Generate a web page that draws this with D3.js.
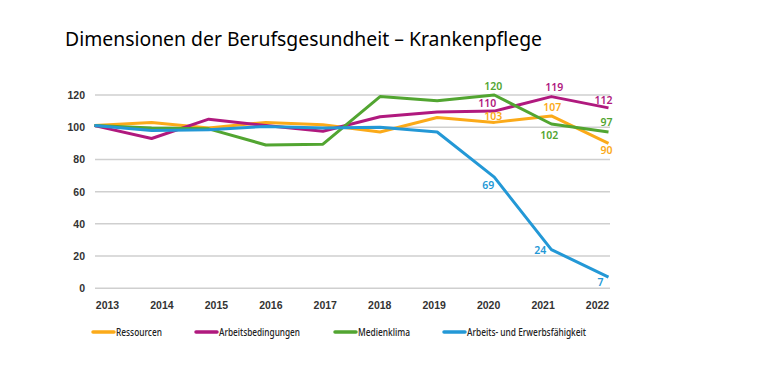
<!DOCTYPE html>
<html>
<head>
<meta charset="utf-8">
<script src="https://cdn.jsdelivr.net/npm/d3@7"></script>
<style>
  body { margin: 0; background: #fff; }
  svg { display: block; font-family: "Noto Sans", sans-serif; }
  .chart-title { font-size: 19.5px; font-weight: 400; fill: #000; }
  .axis text { font-size: 10.5px; font-weight: 600; fill: #333; }
  .legend-label { font-size: 10.5px; font-weight: 500; fill: #222; }
  .value-label { font-size: 10.5px; font-weight: 600; }
</style>
</head>
<body>
<div id="chart"></div>
<script>
// years on the x axis
const years = [2013, 2014, 2015, 2016, 2017, 2018, 2019, 2020, 2021, 2022];
const yTicks = [0, 20, 40, 60, 80, 100, 120];

// index values per dimension (2013 = ~100)
const ressourcen        = [101, 103, 99.5, 103, 101.5, 97, 106, 103, 107, 90];
const arbeitsbedingungen = [101, 93, 105, 101, 97.5, 106.5, 109.5, 110, 119, 112];
const medienklima       = [101, 99.5, 99, 89, 89.5, 119, 116.5, 120, 102, 97];
const erwerbsfaehigkeit = [101, 98, 98.5, 100.5, 99.5, 100, 97, 69, 24, 7];

const seriesNames = ['Ressourcen', 'Arbeitsbedingungen', 'Medienklima', 'Arbeits- und Erwerbsfähigkeit'];
const seriesColors = ['#fbaa19', '#b0197e', '#52a531', '#2398d6'];

// which points carry a value label
const labelSeries = [2, 1, 0, 3, 1, 0, 2, 3, 1, 2, 0, 3];
const labelYears  = [2020, 2020, 2020, 2020, 2021, 2021, 2021, 2021, 2022, 2022, 2022, 2022];

class IndexChart {
    constructor(_config, _data) {
        this.config = {
            parentElement: _config.parentElement,
            containerWidth: _config.containerWidth || 768,
            containerHeight: _config.containerHeight || 387
        }
        this.data = _data;
        this.initVis();
    }

    initVis() {
        let vis = this;

        vis.svg = d3.select(vis.config.parentElement).append('svg')
            .attr('width', vis.config.containerWidth)
            .attr('height', vis.config.containerHeight);

        // points run from the left edge of the grid to the right edge,
        // the year labels sit a little inside of that
        vis.xScale = d3.scalePoint().domain(years).range([94.5, 608.5]);
        vis.xLabelScale = d3.scalePoint().domain(years).range([107, 597]);
        vis.yScale = d3.scaleLinear().domain([0, 120]).range([288.3, 95]);

        vis.svg.append('text')
            .attr('class', 'chart-title')
            .attr('x', 65)
            .attr('y', 46)
            .attr('textLength', 477)
            .attr('lengthAdjust', 'spacingAndGlyphs')
            .text('Dimensionen der Berufsgesundheit – Krankenpflege');

        vis.gridG = vis.svg.append('g').attr('class', 'grid');
        vis.yAxisG = vis.svg.append('g').attr('class', 'axis y-axis');
        vis.xAxisG = vis.svg.append('g').attr('class', 'axis x-axis');
        vis.linesG = vis.svg.append('g').attr('class', 'lines');
        vis.labelsG = vis.svg.append('g').attr('class', 'labels');
        vis.legendG = vis.svg.append('g').attr('class', 'legend');

        vis.line = d3.line()
            .x((d, i) => vis.xScale(years[i]))
            .y(d => vis.yScale(d))
            .curve(d3.curveLinear);
    }

    renderVis() {
        let vis = this;

        vis.gridG.selectAll('line')
            .data(yTicks)
            .join('line')
            .attr('x1', 95)
            .attr('x2', 610)
            .attr('y1', d => vis.yScale(d))
            .attr('y2', d => vis.yScale(d))
            .attr('stroke', '#cfcfcf')
            .attr('stroke-width', 1.5);

        vis.yAxisG
            .attr('transform', 'translate(89,0)')
            .call(d3.axisLeft(vis.yScale).tickValues(yTicks).tickSize(0).tickPadding(4))
            .call(g => g.select('.domain').remove());

        vis.xAxisG
            .attr('transform', 'translate(0,299)')
            .call(d3.axisBottom(vis.xLabelScale).tickSize(0).tickPadding(3).tickFormat(d3.format('d')))
            .call(g => g.select('.domain').remove());

        vis.linesG.selectAll('.chart-line')
            .data(vis.data)
            .join('path')
            .attr('class', 'chart-line')
            .attr('fill', 'none')
            .attr('stroke', d => d.color)
            .attr('stroke-width', 3)
            .attr('stroke-linejoin', 'round')
            .attr('d', d => vis.line(d.values));

        // nudges for each value label, in the same order as labelSeries
        const nudges = [
            [-1, -5, 'middle'], [-7, -4, 'middle'], [-1, -2, 'middle'], [0, 12, 'end'],
            [3, -6, 'middle'], [1, -5, 'middle'], [-2, 15, 'middle'], [-5, 4, 'end'],
            [-5, -4, 'middle'], [-2, -6.5, 'middle'], [-2, 11, 'middle'], [-5, 9, 'end']
        ];
        const labels = labelSeries.map((s, i) => {
            const series = vis.data[s];
            const yi = years.indexOf(labelYears[i]);
            return { series: series, year: labelYears[i], value: series.values[yi], nudge: nudges[i] };
        });

        vis.labelsG.selectAll('.value-label')
            .data(labels)
            .join('text')
            .attr('class', 'value-label')
            .attr('x', d => vis.xScale(d.year) + d.nudge[0])
            .attr('y', d => vis.yScale(d.value) + d.nudge[1])
            .attr('text-anchor', d => d.nudge[2])
            .attr('fill', d => d.series.color)
            .text(d => Math.round(d.value));

        // the legend font is a narrow one, squeeze the labels to match
        const legendX = [93, 196, 335, 444];
        const legendW = [46, 81, 52, 119];
        const items = vis.legendG.selectAll('.legend-item')
            .data(vis.data)
            .join('g')
            .attr('class', 'legend-item')
            .attr('transform', (d, i) => `translate(${legendX[i]},332)`);
        items.append('line')
            .attr('x1', 0).attr('x2', 21)
            .attr('stroke', d => d.color)
            .attr('stroke-width', 3.5)
            .attr('stroke-linecap', 'round');
        items.append('text')
            .attr('class', 'legend-label')
            .attr('x', 23)
            .attr('y', 4)
            .attr('textLength', (d, i) => legendW[i])
            .attr('lengthAdjust', 'spacingAndGlyphs')
            .text(d => d.name);
    }
}

const allValues = [ressourcen, arbeitsbedingungen, medienklima, erwerbsfaehigkeit];
const data = seriesNames.map((name, i) => ({ name: name, color: seriesColors[i], values: allValues[i] }));

const chart = new IndexChart({ parentElement: '#chart' }, data);
chart.renderVis();
</script>
</body>
</html>
